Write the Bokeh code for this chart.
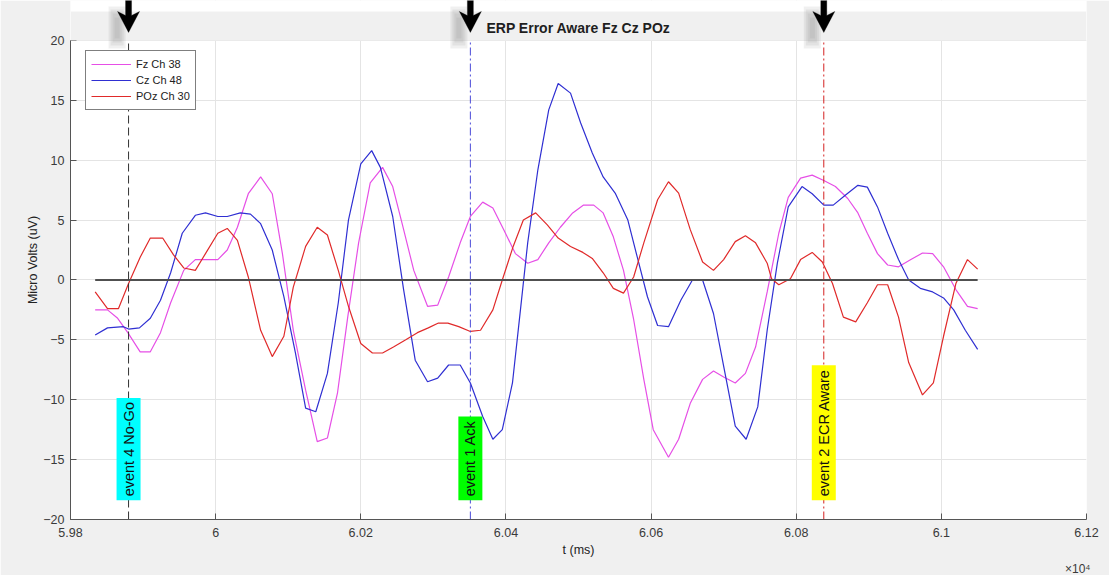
import numpy as np
from bokeh.plotting import figure
from bokeh.models import (ColumnDataSource, Label, FixedTicker, PolyAnnotation, BoxAnnotation,
                          Title, Legend, LegendItem, Range1d)
from bokeh.embed import file_html
from bokeh.resources import INLINE

TITLE = "ERP Error Aware Fz Cz POz"
X_LABEL = "t (ms)"
Y_LABEL = "Micro Volts (uV)"
X_TICKS = [59800, 60000, 60200, 60400, 60600, 60800, 61000, 61200]
X_TICK_LABELS = ["5.98", "6", "6.02", "6.04", "6.06", "6.08", "6.1", "6.12"]
Y_TICKS = [-20, -15, -10, -5, 0, 5, 10, 15, 20]
EXP_LABEL = "\u00d710\u2074"

SERIES_NAMES = ["Fz Ch 38", "Cz Ch 48", "POz Ch 30"]
SERIES_COLORS = ["#e64fe6", "#2f2fd2", "#e02a2a"]

T_FZ = [59834, 59851, 59865, 59879, 59896, 59910, 59924, 59938, 59956, 59972, 59986, 60003,
        60016, 60030, 60045, 60062, 60078, 60092, 60107, 60124, 60140, 60154, 60168, 60182,
        60197, 60213, 60230, 60244, 60257, 60273, 60292, 60306, 60321, 60337, 60351, 60368,
        60382, 60397, 60413, 60430, 60444, 60459, 60475, 60492, 60507, 60521, 60534, 60548,
        60562, 60576, 60590, 60603, 60624, 60638, 60654, 60671, 60686, 60700, 60716, 60730,
        60744, 60760, 60776, 60789, 60806, 60822, 60838, 60854, 60871, 60885, 60898, 60912,
        60926, 60941, 60958, 60974, 60988, 61003, 61020, 61036, 61050]
V_FZ = [-2.5, -2.5, -3.2, -4.4, -6.0, -6.0, -4.4, -1.9, 0.8, 1.7, 1.7, 1.7,
        2.5, 4.4, 7.2, 8.6, 7.2, 2.2, -4.2, -9.2, -13.5, -13.2, -9.4, -3.1,
        3.1, 8.1, 9.4, 7.8, 4.7, 0.8, -2.2, -2.1, 0.25, 3.1, 5.3, 6.5,
        6.0, 4.2, 2.2, 1.4, 1.7, 3.1, 4.4, 5.6, 6.25, 6.25, 5.6, 3.6,
        0.8, -3.3, -8.3, -12.5, -14.8, -13.3, -10.3, -8.3, -7.6, -8.1, -8.6, -7.8,
        -5.6, -1.0, 3.9, 6.9, 8.5, 8.75, 8.3, 7.8, 6.8, 5.6, 3.9, 2.2,
        1.25, 1.1, 1.7, 2.25, 2.2, 1.1, -0.8, -2.2, -2.4]

T_CZ = [59834, 59851, 59873, 59880, 59895, 59910, 59924, 59938, 59954, 59972, 59986, 60003,
        60016, 60034, 60048, 60062, 60078, 60094, 60110, 60124, 60138, 60154, 60169, 60183,
        60200, 60215, 60227, 60244, 60259, 60275, 60292, 60306, 60321, 60337, 60351, 60368,
        60382, 60395, 60409, 60420, 60430, 60444, 60459, 60472, 60489, 60503, 60519, 60534,
        60551, 60568, 60581, 60595, 60609, 60624, 60641, 60657, 60671, 60686, 60700, 60716,
        60731, 60747, 60760, 60774, 60789, 60808, 60822, 60838, 60851, 60868, 60885, 60898,
        60912, 60926, 60941, 60955, 60971, 60988, 61003, 61017, 61033, 61050]
V_CZ = [-4.6, -4.0, -3.9, -4.1, -4.0, -3.2, -1.7, 0.6, 3.9, 5.4, 5.6, 5.3,
        5.3, 5.6, 5.5, 4.7, 2.5, -1.4, -6.1, -10.7, -11.0, -7.8, -1.9, 5.0,
        9.7, 10.8, 9.4, 5.3, -0.8, -6.7, -8.5, -8.2, -7.1, -7.1, -8.6, -11.4,
        -13.3, -12.5, -8.6, -2.5, 3.1, 9.2, 14.2, 16.4, 15.6, 13.1, 10.6, 8.6,
        7.2, 5.0, 1.9, -1.4, -3.8, -3.9, -1.7, 0.0, 0.0, -2.8, -7.2, -12.2,
        -13.3, -10.6, -4.2, 1.4, 6.1, 7.8, 7.2, 6.25, 6.25, 7.1, 7.9, 7.75,
        6.1, 3.9, 1.7, 0.0, -0.7, -1.0, -1.5, -2.5, -4.2, -5.8]

T_POZ = [59834, 59851, 59866, 59880, 59896, 59910, 59927, 59942, 59956, 59972, 59986, 60003,
         60016, 60030, 60045, 60062, 60078, 60094, 60107, 60124, 60140, 60154, 60169, 60183,
         60200, 60216, 60230, 60245, 60262, 60278, 60293, 60307, 60320, 60335, 60351, 60365,
         60382, 60395, 60410, 60424, 60441, 60457, 60472, 60489, 60506, 60519, 60534, 60548,
         60562, 60576, 60590, 60609, 60624, 60638, 60654, 60671, 60686, 60700, 60716, 60730,
         60744, 60760, 60766, 60776, 60792, 60806, 60822, 60836, 60850, 60865, 60882, 60898,
         60912, 60926, 60941, 60955, 60974, 60989, 61003, 61020, 61036, 61050]
V_POZ = [-1.0, -2.4, -2.4, -0.3, 1.9, 3.5, 3.5, 2.1, 1.0, 0.8, 2.2, 3.9,
         4.3, 3.3, 0.25, -4.2, -6.4, -4.7, -0.6, 2.8, 4.4, 3.75, 0.8, -2.2,
         -5.3, -6.1, -6.1, -5.6, -5.0, -4.4, -4.0, -3.6, -3.6, -3.9, -4.3, -4.2,
         -2.5, 0.0, 2.8, 5.0, 5.6, 4.6, 3.5, 2.8, 2.3, 1.8, 0.6, -0.7,
         -1.1, 0.25, 3.1, 6.7, 8.2, 7.25, 4.2, 1.5, 0.8, 1.7, 3.2, 3.7,
         3.1, 1.4, 0.1, -0.4, 0.1, 1.7, 2.3, 1.5, -0.3, -3.1, -3.5, -1.9,
         -0.4, -0.4, -3.1, -6.9, -9.6, -8.6, -4.7, -0.3, 1.7, 0.9]

EVENT_TIMES = [59880, 60351, 60838]
EVENT_LABELS = ["event 4 No-Go", "event 1 Ack", "event 2 ECR Aware"]
EVENT_BG = ["#00ffff", "#00ff00", "#ffff00"]
EVENT_LINE_COLORS = ["#333333", "#4a4ad8", "#d42020"]
EVENT_LINE_DASH = ["8 4", "8 3 2 3", "8 3 2 3"]

FONT = "Liberation Sans"
W, H = 1109, 575
BL, BR, BT, BB = 70, 23, 40, 55  # axes box position in the page
FW, FH = W - BL - BR, H - BT - BB
PX_X = (X_TICKS[-1] - X_TICKS[0]) / FW   # ms per pixel
PX_Y = (Y_TICKS[-1] - Y_TICKS[0]) / FH   # uV per pixel
Y_TOP = Y_TICKS[-1] + BT * PX_Y          # frame reaches the top of the page
GRAY = "#f0f0f0"

p = figure(width=W, height=H,
           x_range=Range1d(X_TICKS[0], X_TICKS[-1]),
           y_range=Range1d(Y_TICKS[0], Y_TOP),
           output_backend="svg", toolbar_location=None,
           min_border_left=BL, min_border_right=BR, min_border_top=0,
           min_border_bottom=BB, background_fill_color="white", border_fill_color=GRAY,
           outline_line_color=None)

for ax in (p.xaxis[0], p.yaxis[0]):
    ax.axis_line_color = "#555555"
    ax.major_tick_line_color = "#555555"
    ax.major_tick_in = 6
    ax.major_tick_out = 0
    ax.minor_tick_line_color = None
    ax.major_label_text_font = FONT
    ax.major_label_text_font_size = "12.5px"
    ax.major_label_text_color = "#3a3a3a"
    ax.axis_label_text_font = FONT
    ax.axis_label_text_font_size = "12.5px"
    ax.axis_label_text_font_style = "normal"
    ax.axis_label_text_color = "#222222"

p.xaxis.ticker = FixedTicker(ticks=X_TICKS)
p.xaxis.major_label_overrides = dict(zip(X_TICKS, X_TICK_LABELS))
p.xaxis.axis_label = X_LABEL
p.xaxis.major_label_standoff = 8
p.xaxis.axis_label_standoff = 3
p.yaxis.ticker = FixedTicker(ticks=Y_TICKS)
p.yaxis.bounds = (Y_TICKS[0], Y_TICKS[-1])
p.yaxis.axis_label = Y_LABEL
p.yaxis.major_label_standoff = 6
p.yaxis.axis_label_standoff = 0

p.grid.grid_line_color = "#e4e4e4"
p.grid.grid_line_width = 1

p.add_layout(Title(text=EXP_LABEL, align="right", text_font=FONT, text_font_size="12px",
                   text_font_style="normal", text_color="#3a3a3a", standoff=0, offset=-4),
             "below")

series = [(T_FZ, V_FZ), (T_CZ, V_CZ), (T_POZ, V_POZ)]
renderers = []
for (t, v), name, color in zip(series, SERIES_NAMES, SERIES_COLORS):
    src = ColumnDataSource(dict(t=t, v=v))
    r = p.line("t", "v", source=src, line_color=color, line_width=1.2)
    renderers.append((name, r))

# zero baseline over the data span
t_min = min(T_FZ[0], T_CZ[0], T_POZ[0])
t_max = max(T_FZ[-1], T_CZ[-1], T_POZ[-1])
p.line([t_min, t_max], [0, 0], line_color="#505050", line_width=2)

# event markers (vertical lines through the axes box)
for t, lc, dash in zip(EVENT_TIMES, EVENT_LINE_COLORS, EVENT_LINE_DASH):
    p.segment(x0=[t], y0=[Y_TICKS[0]], x1=[t], y1=[Y_TICKS[-1]], line_color=lc,
              line_dash=dash, line_width=1)

# area above the axes box: figure-grey with a white band along the very top
p.add_layout(BoxAnnotation(bottom=Y_TICKS[-1], fill_color=GRAY, fill_alpha=1, line_color=None))
p.add_layout(BoxAnnotation(bottom=Y_TOP - 11 * PX_Y, fill_color="white", fill_alpha=1,
                           line_color=None))

p.add_layout(Label(x=(X_TICKS[0] + X_TICKS[-1]) / 2, y=Y_TICKS[-1] + 12 * PX_Y, text=TITLE,
                   text_align="center", text_baseline="middle", text_font=FONT,
                   text_font_size="14px", text_font_style="bold", text_color="#1e1e1e"))

# arrow outline in pixels relative to its tip (dx right, dy up)
ARROW_DX = [0, 11, 3, 3, -3, -3, -11]
ARROW_DY = [0, 21, 17, 45, 45, 17, 21]
TIP = Y_TICKS[-1] + 8 * PX_Y
# soft shadow: nested boxes (left, right, top, bottom offsets in px from the tip)
SHADOW = [(-20, -3, 26, -16), (-18, -5, 23, -13), (-16, -7, 19, -10), (-14, -9, 15, -6)]

for t, lab, bg in zip(EVENT_TIMES, EVENT_LABELS, EVENT_BG):
    p.add_layout(Label(x=t, y=-18.4, text=lab, angle=np.pi / 2, text_align="left",
                       text_baseline="middle", text_font=FONT, text_font_size="14.5px",
                       text_color="#111111", background_fill_color=bg, padding=4))
    for l, r_, tp, bt in SHADOW:
        p.add_layout(BoxAnnotation(left=t + l * PX_X, right=t + r_ * PX_X,
                                   top=TIP + tp * PX_Y, bottom=TIP + bt * PX_Y,
                                   fill_color="#808080", fill_alpha=0.12, line_color=None))
    p.add_layout(PolyAnnotation(xs=[t + dx * PX_X for dx in ARROW_DX],
                                ys=[TIP + dy * PX_Y for dy in ARROW_DY],
                                fill_color="black", fill_alpha=1, line_color="black",
                                line_width=1))

legend = Legend(items=[LegendItem(label=n, renderers=[r]) for n, r in renderers],
                location=(15, FH - 71), padding=5, spacing=0,
                glyph_width=40, glyph_height=16, label_height=16, label_standoff=5,
                label_text_font=FONT, label_text_font_size="11px", label_text_color="#222222",
                border_line_color="black", border_line_width=1, background_fill_color="white",
                background_fill_alpha=1.0)
p.add_layout(legend)

open("out.html", "w").write(file_html(p, INLINE))
